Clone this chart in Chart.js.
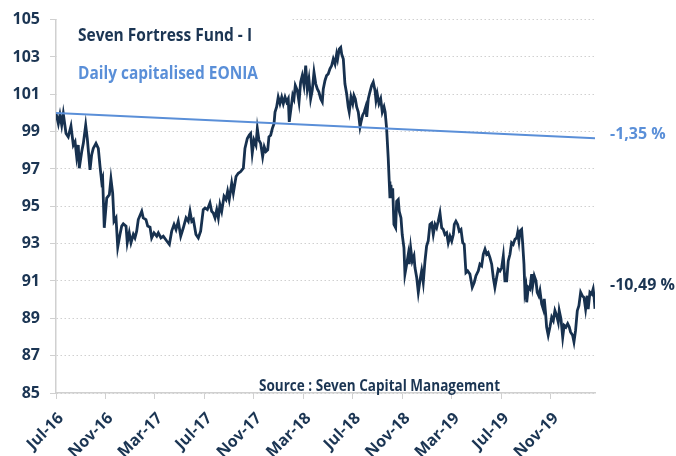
<!DOCTYPE html>
<html>
<head>
<meta charset="utf-8">
<script src="https://cdn.jsdelivr.net/npm/chart.js@4.4.1/dist/chart.umd.min.js"></script>
<style>
html,body{margin:0;padding:0;background:#fff;}
#wrap{width:676px;height:456px;position:relative;}
</style>
</head>
<body>
<div id="wrap"><canvas id="c" width="676" height="456"></canvas></div>
<script>
// Month offsets since Jul-16 and fund values
const fundMonths = [0.00,0.19,0.32,0.46,0.59,0.81,0.99,1.21,1.40,1.54,1.67,1.80,1.88,2.08,2.21,2.40,2.53,2.75,2.88,3.01,3.23,3.42,3.56,3.69,3.77,3.90,4.10,4.31,4.44,4.58,4.69,4.85,4.99,5.17,5.31,5.44,5.66,5.76,5.92,6.06,6.25,6.38,6.52,6.65,6.93,7.05,7.27,7.41,7.60,7.73,7.92,8.14,8.27,8.48,8.67,8.95,9.16,9.35,9.54,9.70,9.88,10.08,10.29,10.51,10.69,10.83,10.97,11.10,11.31,11.50,11.69,11.90,12.04,12.23,12.44,12.58,12.71,12.85,12.99,13.12,13.25,13.39,13.58,13.74,13.87,14.00,14.20,14.33,14.55,14.73,14.93,15.14,15.27,15.46,15.62,15.73,15.86,16.00,16.16,16.27,16.40,16.54,16.70,16.83,16.97,17.11,17.21,17.35,17.48,17.62,17.70,17.83,17.96,18.10,18.24,18.37,18.51,18.64,18.77,18.85,18.99,19.13,19.23,19.34,19.50,19.64,19.77,19.90,20.04,20.18,20.31,20.44,20.58,20.71,20.85,20.99,21.12,21.25,21.39,21.52,21.60,21.74,21.87,22.00,22.14,22.28,22.41,22.55,22.68,22.76,22.89,23.01,23.09,23.22,23.35,23.49,23.62,23.70,23.84,23.98,24.08,24.19,24.30,24.43,24.57,24.65,24.78,24.91,25.03,25.11,25.24,25.37,25.51,25.64,25.78,25.86,25.96,26.10,26.24,26.37,26.51,26.60,26.72,26.85,26.93,26.99,27.07,27.13,27.21,27.31,27.45,27.53,27.66,27.74,27.88,27.98,28.12,28.20,28.34,28.47,28.55,28.66,28.79,28.93,29.01,29.15,29.28,29.41,29.55,29.68,29.82,29.95,30.08,30.22,30.36,30.49,30.63,30.76,30.89,31.03,31.17,31.30,31.43,31.57,31.70,31.84,31.98,32.11,32.19,32.32,32.46,32.59,32.73,32.87,32.99,33.13,33.27,33.45,33.64,33.80,33.94,34.13,34.26,34.40,34.53,34.67,34.80,34.93,35.07,35.21,35.34,35.47,35.61,35.74,35.88,36.02,36.15,36.28,36.42,36.55,36.69,36.82,36.95,37.09,37.23,37.31,37.41,37.49,37.63,37.71,37.82,37.90,37.98,38.04,38.17,38.30,38.44,38.52,38.65,38.79,38.89,39.01,39.11,39.25,39.38,39.46,39.57,39.65,39.78,39.92,40.06,40.19,40.32,40.46,40.59,40.67,40.81,40.95,41.07,41.21,41.35,41.48,41.59,41.75,41.86,41.99,42.13,42.26,42.40,42.53,42.67,42.80,42.93,43.01,43.15,43.29,43.41,43.49,43.56];
const fundValues = [100.0,99.43,99.9,99.35,99.96,98.9,98.72,99.3,98.28,98.46,97.66,98.28,97.04,97.93,98.37,99.35,98.63,96.95,97.75,98.1,98.37,98.1,97.13,96.33,96.5,93.85,95.44,95.62,96.47,95.71,94.2,94.38,92.82,93.49,93.94,94.06,93.94,93.05,93.58,93.05,93.49,93.31,93.67,94.29,94.73,94.38,94.29,93.94,93.88,93.31,93.58,93.4,93.58,93.31,93.4,93.14,92.96,93.67,94.03,93.76,94.2,93.4,93.85,94.38,94.2,94.73,94.2,94.29,93.49,93.31,93.67,94.82,94.91,94.82,95.18,94.73,94.64,94.38,94.82,94.38,95.09,94.73,95.53,95.36,95.8,95.36,96.24,95.71,96.6,96.77,96.86,97.04,98.1,98.63,98.81,98.9,97.84,98.55,98.28,99.16,98.55,98.37,97.66,98.19,97.93,98.02,98.72,98.81,99.16,99.43,100.05,100.32,100.85,100.5,100.85,100.5,100.85,100.59,100.76,99.52,100.23,100.94,100.76,101.47,101.21,100.59,101.65,102.0,101.47,102.54,101.29,101.82,100.76,101.21,102.18,101.56,101.29,101.12,100.76,100.59,101.29,101.74,102.0,102.09,102.36,102.54,102.89,102.62,103.15,102.89,103.42,103.51,103.15,102.89,101.56,101.03,100.32,100.05,100.85,100.5,100.94,100.76,100.32,100.05,99.26,99.52,99.88,100.05,100.32,99.79,100.76,101.12,101.47,101.65,101.21,100.68,101.03,100.5,100.76,100.05,100.32,100.05,99.16,97.57,96.33,95.44,96.15,95.44,95.97,94.03,93.85,95.27,95.36,94.73,94.38,93.49,92.78,91.37,91.9,92.43,91.9,92.78,92.07,92.34,91.72,91.19,90.39,91.01,91.54,90.92,92.07,92.87,93.14,94.03,94.11,93.49,94.03,93.85,94.2,94.64,93.85,93.76,93.49,93.58,93.05,93.4,93.14,93.49,94.03,94.2,94.03,93.67,93.76,93.05,92.96,91.45,91.54,91.37,90.66,90.92,91.28,91.54,91.9,91.81,92.43,92.7,92.43,92.52,92.25,91.9,91.19,90.66,91.19,91.63,91.54,91.72,92.34,91.01,91.01,92.07,92.43,93.05,92.96,93.23,93.31,93.58,93.14,93.67,93.76,93.05,91.9,90.39,90.66,89.86,90.66,90.57,91.37,90.74,91.28,91.01,90.39,90.21,90.48,89.77,89.5,90.04,89.24,88.53,88.09,88.53,89.06,88.88,89.41,89.15,88.79,89.41,88.97,87.99,88.62,88.53,88.71,88.53,88.26,88.09,87.73,88.35,89.41,89.68,90.39,90.21,90.12,89.5,90.21,89.5,90.39,90.3,90.57,90.12,89.51];
const eoniaMonths = [0.00, 43.56];
const eoniaValues = [100.0, 98.65];
const xTickMonths = [0,4,8,12,16,20,24,28,32,36,40];
const xTickLabels = ['Jul-16','Nov-16','Mar-17','Jul-17','Nov-17','Mar-18','Jul-18','Nov-18','Mar-19','Jul-19','Nov-19'];
const yTicks = [85,87,89,91,93,95,97,99,101,103,105];
const fundName = 'Seven Fortress Fund - I';
const eoniaName = 'Daily capitalised EONIA';
const fundPerf = '-10,49 %';
const eoniaPerf = '-1,35 %';
const sourceText = 'Source : Seven Capital Management';

const NAVY = '#1b3553';
const FUNDLINE = '#17314f';
const BLUE = '#5a8fd8';
const GRID = '#d0d0d0';
const FONT = '"Open Sans", sans-serif';

const toPts = (xs, ys) => xs.map((x, i) => ({x: x, y: ys[i]}));

const overlay = {
  id: 'overlay',
  beforeDatasetsDraw(chart) {
    const ctx = chart.ctx;
    ctx.save();
    ctx.fillStyle = '#ffffff';
    ctx.fillRect(57, 8, 233, 89);
    ctx.restore();
  },
  afterDraw(chart) {
    const ctx = chart.ctx;
    ctx.save();
    ctx.textBaseline = 'alphabetic';
    ctx.textAlign = 'left';
    ctx.font = 'bold 17.5px ' + FONT;
    ctx.fillStyle = NAVY;
    ctx.fillText(fundName, 78, 41, 174);
    ctx.fillStyle = BLUE;
    ctx.fillText(eoniaName, 78, 79, 180);
    ctx.font = 'bold 16px ' + FONT;
    ctx.fillStyle = BLUE;
    ctx.fillText(eoniaPerf, 610, 139, 56);
    ctx.fillStyle = NAVY;
    ctx.fillText(fundPerf, 610, 290, 65);
    ctx.font = 'bold 15.5px ' + FONT;
    ctx.fillText(sourceText, 259, 390.5, 241);
    ctx.restore();
  }
};

new Chart(document.getElementById('c'), {
  type: 'line',
  data: {
    datasets: [
      {label: eoniaName, data: toPts(eoniaMonths, eoniaValues), borderColor: BLUE, borderWidth: 2, pointRadius: 0, tension: 0},
      {label: fundName, data: toPts(fundMonths, fundValues), borderColor: FUNDLINE, borderWidth: 2.8, pointRadius: 0, tension: 0}
    ]
  },
  plugins: [overlay],
  options: {
    responsive: false,
    animation: false,
    events: [],
    layout: {padding: {top: 17, right: 81, left: 0, bottom: 0}},
    plugins: {legend: {display: false}, tooltip: {enabled: false}, title: {display: false}},
    scales: {
      x: {
        type: 'linear',
        min: 0,
        max: 43.56,
        afterBuildTicks(scale) { scale.ticks = xTickMonths.map(v => ({value: v})); },
        afterFit(scale) { scale.height = 63; },
        grid: {drawOnChartArea: false, drawTicks: true, tickLength: 6, color: GRID, lineWidth: 1},
        border: {display: true, color: GRID, width: 1.5},
        ticks: {
          autoSkip: false,
          maxRotation: 45,
          minRotation: 45,
          padding: 10,
          labelOffset: 5,
          color: NAVY,
          font: {family: FONT, weight: 'bold', size: 16},
          callback(v) { const i = xTickMonths.indexOf(v); return i >= 0 ? xTickLabels[i] : ''; }
        }
      },
      y: {
        min: 85,
        max: 105,
        afterBuildTicks(scale) { scale.ticks = yTicks.map(v => ({value: v})); },
        afterFit(scale) { scale.width = 56; },
        grid: {drawTicks: true, tickLength: 6, color: GRID, lineWidth: 1, tickBorderDash: [], tickColor: GRID},
        border: {display: true, color: GRID, width: 1.5, dash: [1.5, 2.5]},
        ticks: {
          padding: 10,
          color: NAVY,
          font: {family: FONT, weight: 'bold', size: 16},
          callback(v) { return String(v); }
        }
      }
    }
  }
});
</script>
</body>
</html>
